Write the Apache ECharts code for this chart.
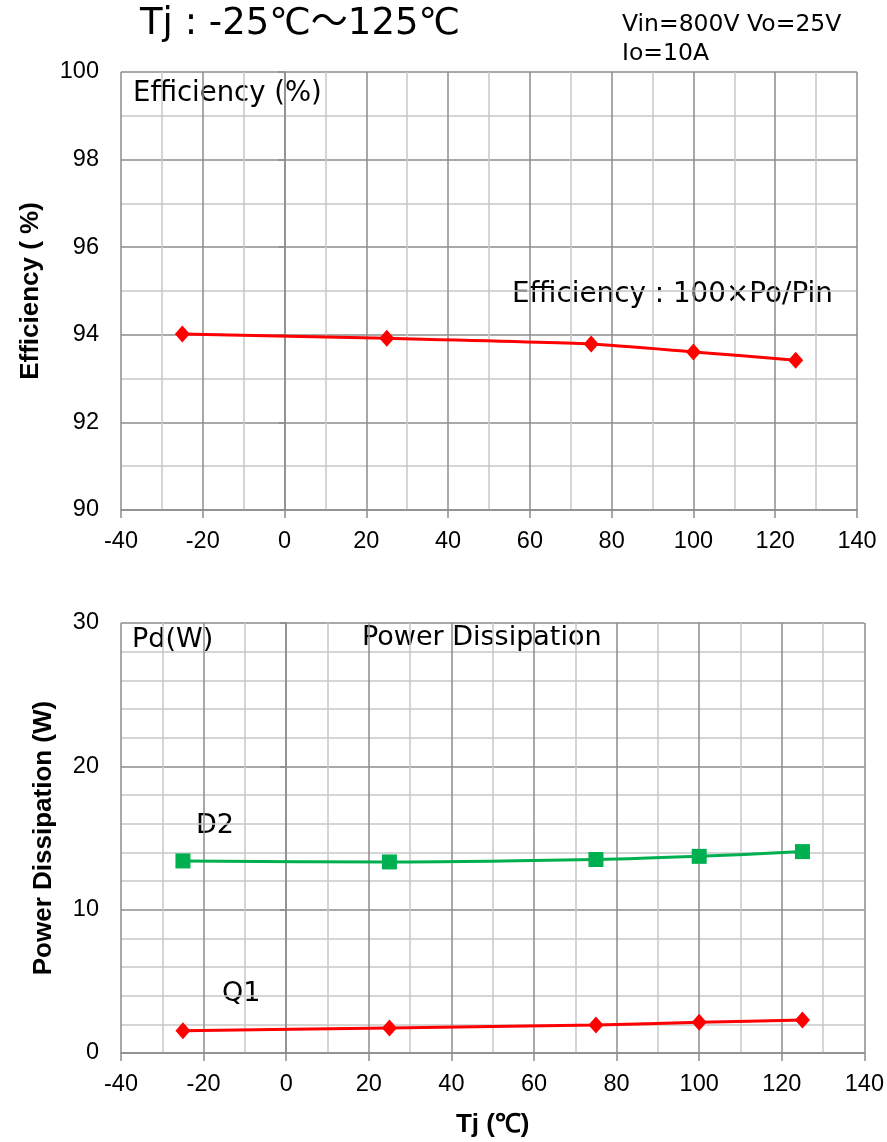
<!DOCTYPE html>
<html><head><meta charset="utf-8">
<script src="https://cdn.jsdelivr.net/npm/echarts@6/dist/echarts.min.js"></script>
<style>html,body{margin:0;padding:0;background:#fff}#c{width:887px;height:1142px}</style>
</head><body><div id="c"></div>
<script>
const tj = [-25, 25, 75, 100, 125];
const efficiency = [94.02, 93.92, 93.79, 93.61, 93.42];
const d2 = [13.4, 13.33, 13.5, 13.72, 14.05];
const q1 = [1.55, 1.75, 1.95, 2.15, 2.3];
const xTicks = [-40, -20, 0, 20, 40, 60, 80, 100, 120, 140];

const chart = echarts.init(document.getElementById('c'));
const tickFont = {fontFamily: 'Liberation Sans', fontSize: 23.5, color: '#000'};
const majorLine = {show: true, lineStyle: {color: '#8c8c8c', width: 1.5}};
const minorLine = {show: true, lineStyle: {color: '#c8c8c8', width: 1.5}};
const annFont = '"DejaVu Sans", "Noto Sans CJK JP", sans-serif';
const nameStyle = {fontFamily: 'Liberation Sans', fontWeight: 'bold', fontSize: 26, color: '#000'};

function xAxis(gi) {
  return {
    type: 'value', gridIndex: gi, min: xTicks[0], max: xTicks[xTicks.length - 1], interval: 20,
    axisLine: {show: true, onZero: false, lineStyle: {color: '#8c8c8c', width: 1.5}},
    axisTick: {show: true, length: 8, lineStyle: {color: '#8c8c8c', width: 1.5}},
    axisLabel: Object.assign({margin: 20}, tickFont),
    splitLine: majorLine,
    minorTick: {show: false, splitNumber: 2},
    minorSplitLine: minorLine,
    name: gi === 1 ? 'Tj (℃)' : '', nameLocation: 'middle', nameGap: 59,
    nameTextStyle: nameStyle
  };
}

const option = {
  animation: false,
  grid: [
    {left: 121, right: 30, top: 72, height: 438},
    {left: 121, right: 22, top: 623, height: 430}
  ],
  xAxis: [xAxis(0), xAxis(1)],
  yAxis: [
    {
      type: 'value', gridIndex: 0, min: 90, max: 100, interval: 2,
      axisLine: {show: true, lineStyle: {color: '#8c8c8c', width: 1.5}},
      axisTick: {show: true, length: 6, lineStyle: {color: '#8c8c8c', width: 1.5}},
      axisLabel: Object.assign({margin: 22}, tickFont),
      splitLine: majorLine,
      minorTick: {show: false, splitNumber: 2},
      minorSplitLine: minorLine,
      name: 'Efficiency ( %)', nameLocation: 'middle', nameGap: 77, nameRotate: 90,
      nameTextStyle: nameStyle
    },
    {
      type: 'value', gridIndex: 1, min: 0, max: 30, interval: 10,
      axisLine: {show: true, lineStyle: {color: '#8c8c8c', width: 1.5}},
      axisTick: {show: true, length: 6, lineStyle: {color: '#8c8c8c', width: 1.5}},
      axisLabel: Object.assign({margin: 22}, tickFont),
      splitLine: majorLine,
      minorTick: {show: false, splitNumber: 5},
      minorSplitLine: minorLine,
      name: 'Power Dissipation (W)', nameLocation: 'middle', nameGap: 64, nameRotate: 90,
      nameTextStyle: nameStyle
    }
  ],
  series: [
    {
      name: 'Efficiency', type: 'line', xAxisIndex: 0, yAxisIndex: 0,
      data: tj.map((t, i) => [t, efficiency[i]]), smooth: 0.2,
      symbol: 'diamond', symbolSize: [15, 17],
      lineStyle: {color: '#ff0000', width: 3}, itemStyle: {color: '#ff0000'}
    },
    {
      name: 'D2', type: 'line', xAxisIndex: 1, yAxisIndex: 1,
      data: tj.map((t, i) => [t, d2[i]]), smooth: 0.3,
      symbol: 'rect', symbolSize: 15,
      lineStyle: {color: '#00b050', width: 3}, itemStyle: {color: '#00b050'}
    },
    {
      name: 'Q1', type: 'line', xAxisIndex: 1, yAxisIndex: 1,
      data: tj.map((t, i) => [t, q1[i]]), smooth: 0.2,
      symbol: 'diamond', symbolSize: [15, 17],
      lineStyle: {color: '#ff0000', width: 3}, itemStyle: {color: '#ff0000'}
    }
  ],
  graphic: [
    {type: 'text', left: 140, top: 6, style: {text: 'Tj : -25℃～125℃', font: '37px ' + annFont, fill: '#000'}},
    {type: 'text', left: 622, top: 13, style: {text: 'Vin=800V Vo=25V', font: '23.5px ' + annFont, fill: '#000'}},
    {type: 'text', left: 622, top: 42, style: {text: 'Io=10A', font: '23.5px ' + annFont, fill: '#000'}},
    {type: 'text', left: 133, top: 80, style: {text: 'Efficiency (%)', font: '27.5px ' + annFont, fill: '#000'}},
    {type: 'text', left: 512, top: 281, style: {text: 'Efficiency : 100×Po/Pin', font: '27.8px ' + annFont, fill: '#000'}},
    {type: 'text', left: 132, top: 626, style: {text: 'Pd(W)', font: '27px ' + annFont, fill: '#000'}},
    {type: 'text', left: 362, top: 624, style: {text: 'Power Dissipation', font: '27px ' + annFont, fill: '#000'}},
    {type: 'text', left: 196, top: 812, style: {text: 'D2', font: '27px ' + annFont, fill: '#000'}},
    {type: 'text', left: 222, top: 980, style: {text: 'Q1', font: '27px ' + annFont, fill: '#000'}}
  ]
};
chart.setOption(option);
</script>
</body></html>
